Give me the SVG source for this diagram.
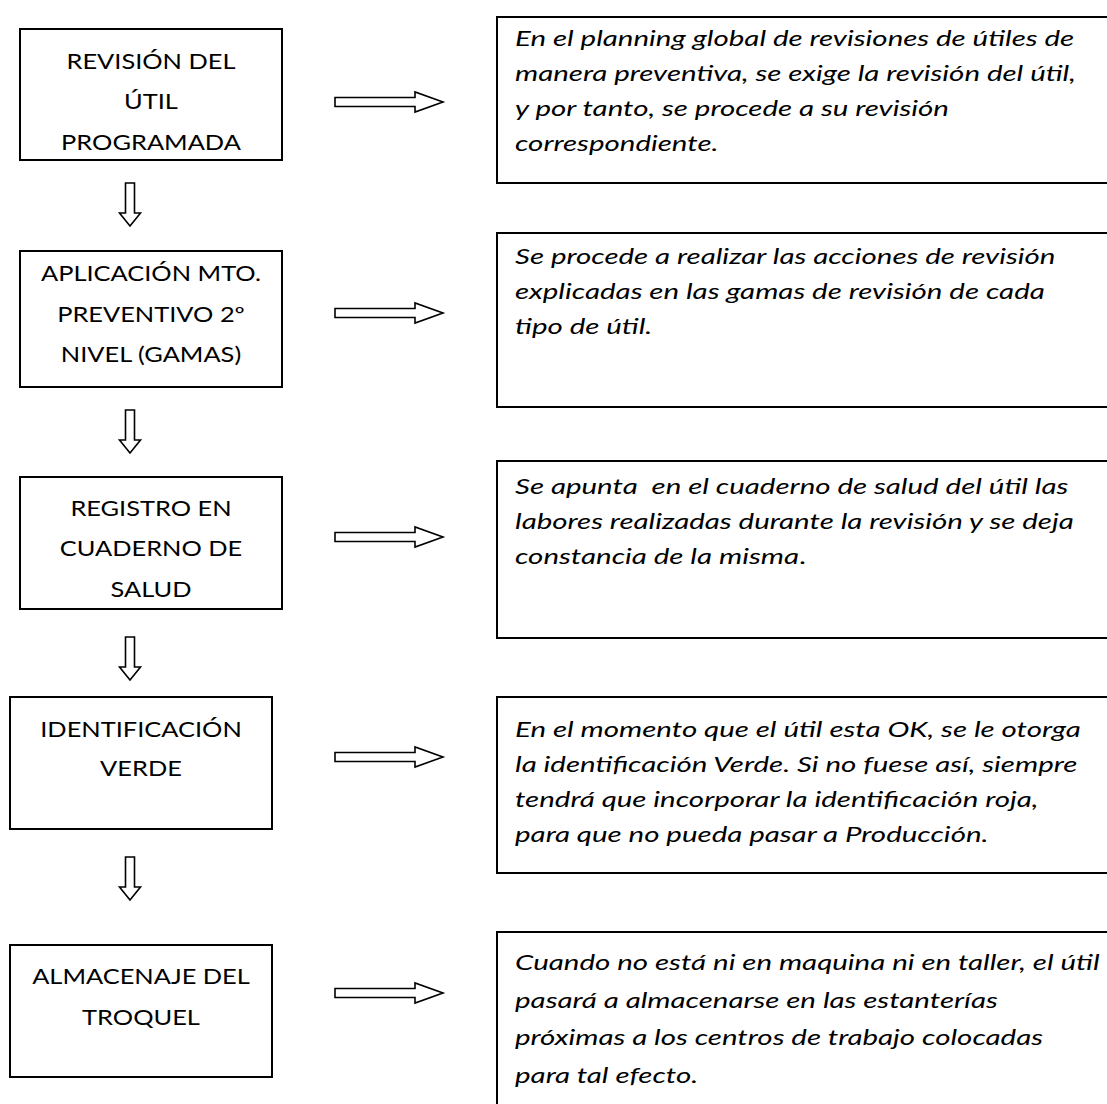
<svg xmlns="http://www.w3.org/2000/svg" width="1107" height="1104" viewBox="0 0 1107 1104">
  <style>
    .box { fill: #ffffff; stroke: #000000; stroke-width: 2; }
    .step { font-family: Lato, "Open Sans", "Liberation Sans", sans-serif; font-size: 21px; fill: #000000; text-anchor: middle; }
    .note { font-family: Lato, "Open Sans", "Liberation Sans", sans-serif; font-size: 22px; font-style: italic; fill: #000000; }
    .arrow { fill: #ffffff; stroke: #000000; stroke-width: 1.6; stroke-linejoin: miter; }
  </style>
  <defs>
    <!-- hollow block arrows -->
    <path id="arrow-right" d="M0,-4.5 H80 V-10 L108,0 L80,10 V4.5 H0 Z"/>
    <path id="arrow-down" d="M-4.5,0 V30 H-10.5 L0,43 L10.5,30 H4.5 V0 Z"/>
  </defs>
  <rect width="1107" height="1104" fill="#ffffff"/>

  <!-- process steps -->
  <g id="step-revision">
    <rect class="box" x="20" y="29" width="262" height="131"/>
    <g transform="translate(151,0) scale(1.21,1)">
      <text class="step" x="0" y="69">REVISIÓN DEL</text>
      <text class="step" x="0" y="109">ÚTIL</text>
      <text class="step" x="0" y="150">PROGRAMADA</text>
    </g>
  </g>
  <g id="step-mantenimiento">
    <rect class="box" x="20" y="251" width="262" height="136"/>
    <g transform="translate(151,0) scale(1.21,1)">
      <text class="step" x="0" y="281">APLICACIÓN MTO.</text>
      <text class="step" x="0" y="322">PREVENTIVO 2º</text>
      <text class="step" x="0" y="362">NIVEL (GAMAS)</text>
    </g>
  </g>
  <g id="step-registro">
    <rect class="box" x="20" y="477" width="262" height="132"/>
    <g transform="translate(151,0) scale(1.21,1)">
      <text class="step" x="0" y="516">REGISTRO EN</text>
      <text class="step" x="0" y="556">CUADERNO DE</text>
      <text class="step" x="0" y="597">SALUD</text>
    </g>
  </g>
  <g id="step-identificacion">
    <rect class="box" x="10" y="697" width="262" height="132"/>
    <g transform="translate(141,0) scale(1.21,1)">
      <text class="step" x="0" y="737">IDENTIFICACIÓN</text>
      <text class="step" x="0" y="776">VERDE</text>
    </g>
  </g>
  <g id="step-almacenaje">
    <rect class="box" x="10" y="945" width="262" height="132"/>
    <g transform="translate(141,0) scale(1.21,1)">
      <text class="step" x="0" y="984">ALMACENAJE DEL</text>
      <text class="step" x="0" y="1025">TROQUEL</text>
    </g>
  </g>

  <!-- descriptions -->
  <g id="note-revision">
    <rect class="box" x="497" y="17" width="640" height="166"/>
    <g transform="translate(515,0) scale(1.34,1)">
      <text class="note" x="0" y="46">En el planning global de revisiones de útiles de</text>
      <text class="note" x="0" y="81">manera preventiva, se exige la revisión del útil,</text>
      <text class="note" x="0" y="116">y por tanto, se procede a su revisión</text>
      <text class="note" x="0" y="151">correspondiente.</text>
    </g>
  </g>
  <g id="note-mantenimiento">
    <rect class="box" x="497" y="233" width="640" height="174"/>
    <g transform="translate(515,0) scale(1.34,1)">
      <text class="note" x="0" y="264">Se procede a realizar las acciones de revisión</text>
      <text class="note" x="0" y="299">explicadas en las gamas de revisión de cada</text>
      <text class="note" x="0" y="334">tipo de útil.</text>
    </g>
  </g>
  <g id="note-registro">
    <rect class="box" x="497" y="461" width="640" height="177"/>
    <g transform="translate(515,0) scale(1.34,1)">
      <text class="note" x="0" y="494" xml:space="preserve">Se apunta  en el cuaderno de salud del útil las</text>
      <text class="note" x="0" y="529">labores realizadas durante la revisión y se deja</text>
      <text class="note" x="0" y="564">constancia de la misma<tspan font-style="normal">.</tspan></text>
    </g>
  </g>
  <g id="note-identificacion">
    <rect class="box" x="497" y="697" width="640" height="176"/>
    <g transform="translate(515,0) scale(1.34,1)">
      <text class="note" x="0" y="737">En el momento que el útil esta OK, se le otorga</text>
      <text class="note" x="0" y="772">la identificación Verde. Si no fuese así, siempre</text>
      <text class="note" x="0" y="807">tendrá que incorporar la identificación roja,</text>
      <text class="note" x="0" y="842">para que no pueda pasar a Producción.</text>
    </g>
  </g>
  <g id="note-almacenaje">
    <rect class="box" x="497" y="932" width="640" height="200"/>
    <g transform="translate(515,0) scale(1.34,1)">
      <text class="note" x="0" y="970">Cuando no está ni en maquina ni en taller, el útil</text>
      <text class="note" x="0" y="1008">pasará a almacenarse en las estanterías</text>
      <text class="note" x="0" y="1045">próximas a los centros de trabajo colocadas</text>
      <text class="note" x="0" y="1083">para tal efecto.</text>
    </g>
  </g>

  <!-- connectors -->
  <g id="connectors">
    <use href="#arrow-right" class="arrow" transform="translate(335,102)"/>
    <use href="#arrow-right" class="arrow" transform="translate(335,313)"/>
    <use href="#arrow-right" class="arrow" transform="translate(335,537)"/>
    <use href="#arrow-right" class="arrow" transform="translate(335,757)"/>
    <use href="#arrow-right" class="arrow" transform="translate(335,993)"/>
    <use href="#arrow-down" class="arrow" transform="translate(130,183)"/>
    <use href="#arrow-down" class="arrow" transform="translate(130,410)"/>
    <use href="#arrow-down" class="arrow" transform="translate(130,637)"/>
    <use href="#arrow-down" class="arrow" transform="translate(130,857)"/>
  </g>
</svg>
